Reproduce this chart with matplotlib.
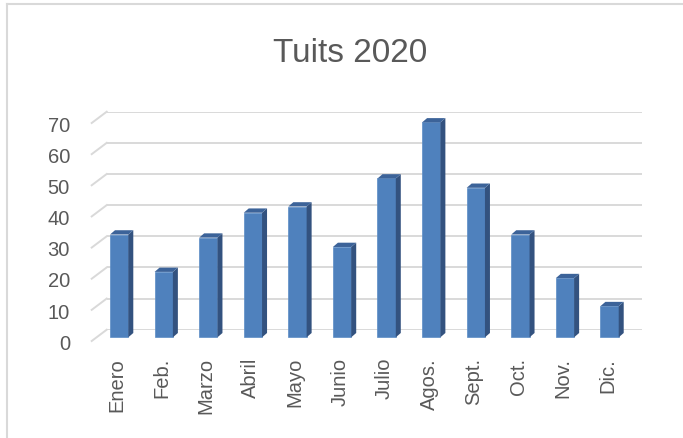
import numpy as np
import matplotlib
matplotlib.use('Agg')
import matplotlib.pyplot as plt
from matplotlib.patches import Polygon
from matplotlib.lines import Line2D
from matplotlib.transforms import ScaledTranslation

# datos
meses = ['Enero', 'Feb.', 'Marzo', 'Abril', 'Mayo', 'Junio', 'Julio',
         'Agos.', 'Sept.', 'Oct.', 'Nov.', 'Dic.']
tuits = [33, 21, 32, 40, 42, 29, 51, 69, 48, 33, 19, 10]
yticks = [0, 10, 20, 30, 40, 50, 60, 70]

plt.rcParams['font.family'] = ['Liberation Sans', 'DejaVu Sans']
gris = '#595959'
rejilla = '#d9d9d9'

W, H = 683, 439
fig = plt.figure(figsize=(W / 100, H / 100), dpi=100)
# plano del fondo (pixeles medidos en la imagen)
ax = fig.add_axes([106.7 / W, 1 - 330.7 / H, 535 / W, 218 / H])
ax.set_xlim(-0.5, 11.5)
ax.set_ylim(0, 70)
ax.axis('off')

ux = 535 / 12   # px por categoria
uy = 218 / 70   # px por unidad

def off(dx, dy):
    # desplazamiento en pixeles
    return ax.transData + ScaledTranslation(dx / 100, dy / 100, fig.dpi_scale_trans)

# rejilla con el efecto 3D
for v in yticks:
    ax.plot([-0.5, 11.5], [v, v], color=rejilla, lw=1.4, zorder=1)
    ax.plot([-0.5, -0.5 - 15 / ux], [v, v - 11.3 / uy], color=rejilla, lw=1.4,
            clip_on=False, zorder=1)
    ax.text(-0.5, v, str(v), transform=off(-36.7, -19), ha='right',
            va='baseline', fontsize=14.5, color=gris)

# barras
x = np.arange(len(meses))
bw = 18.3 / ux
fx = x - 19 / ux
base = -7.6 / uy
sx, sy = 5 / ux, 4.3 / uy
ax.bar(fx, tuits, width=bw, bottom=base, align='edge', color='#4f81bd',
       edgecolor='#5b8cc6', linewidth=0.5, clip_on=False, zorder=3)
for xi, v in zip(fx, tuits):
    top = base + v
    lado = Polygon([(xi + bw, base), (xi + bw + sx, base + sy),
                    (xi + bw + sx, top + sy), (xi + bw, top)],
                   closed=True, facecolor='#33527f', edgecolor='none',
                   clip_on=False, zorder=3)
    tapa = Polygon([(xi, top), (xi + bw, top), (xi + bw + sx, top + sy),
                    (xi + sx, top + sy)],
                   closed=True, facecolor='#3c6399', edgecolor='none',
                   clip_on=False, zorder=3)
    ax.add_patch(lado)
    ax.add_patch(tapa)

# etiquetas de meses
for xi, m in zip(x, meses):
    ax.text(xi, 0, m, transform=off(-12, -27.3), rotation=90, ha='center',
            va='top', fontsize=14.5, color=gris)

fig.text(350 / W, 1 - 62 / H, 'Tuits 2020', ha='center', va='baseline',
         fontsize=24, color=gris)

# borde del grafico
fig.add_artist(Line2D([7 / W, 7 / W], [0, 1 - 5 / H], transform=fig.transFigure,
                      color=rejilla, lw=1.5))
fig.add_artist(Line2D([7 / W, 1], [1 - 5 / H, 1 - 5 / H], transform=fig.transFigure,
                      color=rejilla, lw=1.5))

fig.savefig('out.png', dpi=100)
